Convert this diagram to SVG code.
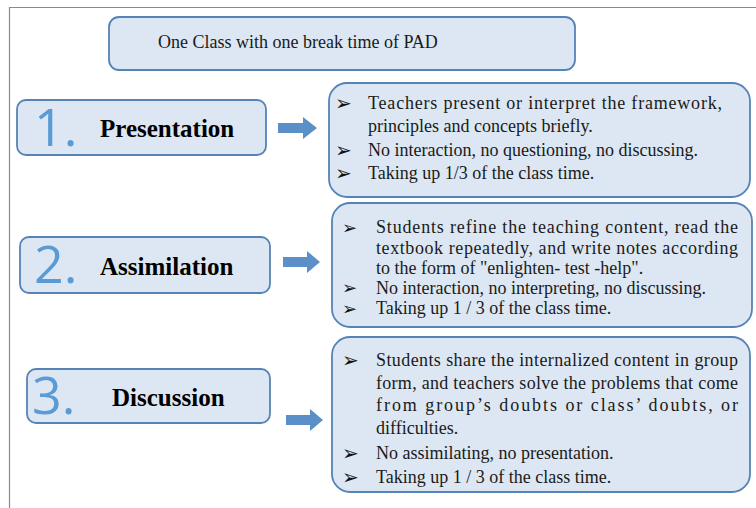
<svg xmlns="http://www.w3.org/2000/svg" width="756" height="508" viewBox="0 0 756 508">
<style>
.box{fill:#dce7f3;stroke:#5683b5;stroke-width:1.8}
.t{font-family:"Liberation Serif","Times New Roman",serif;font-size:18px;fill:#1a1a1a}
.h{font-family:"Liberation Serif","Times New Roman",serif;font-size:25px;font-weight:bold;fill:#000}
.n{font-family:"Open Sans",Roboto,sans-serif;font-weight:400;font-size:52px;fill:#5b9bd5}
.b{font-family:"DejaVu Sans",sans-serif;font-size:20px;fill:#111}
.b2{font-family:"DejaVu Sans",sans-serif;font-size:18px;fill:#111}
.arr{fill:#5b8fc7}
</style>
<rect width="756" height="508" fill="#fff"/>
<path d="M9.5 508 V7.5 H756" fill="none" stroke="#8a8a8a" stroke-width="1.2"/>
<g id="title">
<rect class="box" x="109" y="17" width="466" height="53" rx="10"/>
<text class="t" x="158" y="48" font-size="18.6">One Class with one break time of PAD</text>
</g>
<g id="n1">
<rect class="box" x="17" y="100" width="249" height="55" rx="9"/>
<text class="n" x="34" y="146">1.</text>
<text class="h" x="100" y="137">Presentation</text>
</g>
<g id="n2">
<rect class="box" x="20" y="237" width="250" height="56" rx="9"/>
<text class="n" x="34" y="283">2.</text>
<text class="h" x="100" y="275">Assimilation</text>
</g>
<g id="n3">
<rect class="box" x="27" y="369" width="243" height="54" rx="9"/>
<text class="n" x="32" y="414">3.</text>
<text class="h" x="112" y="406">Discussion</text>
</g>
<g id="d1">
<rect class="box" x="329" y="83" width="421" height="114" rx="18"/>
<text class="b" x="335" y="110">➢</text>
<text class="t" x="368" y="109" textLength="354" lengthAdjust="spacing">Teachers present or interpret the framework,</text>
<text class="t" x="368" y="132">principles and concepts briefly.</text>
<text class="b" x="335" y="157">➢</text>
<text class="t" x="368" y="156">No interaction, no questioning, no discussing.</text>
<text class="b" x="335" y="180">➢</text>
<text class="t" x="368" y="179">Taking up 1/3 of the class time.</text>
</g>
<g id="d2">
<rect class="box" x="332" y="203" width="420" height="124" rx="18"/>
<text class="b2" x="342" y="234">➢</text>
<text class="t" x="376" y="233" textLength="362" lengthAdjust="spacing">Students refine the teaching content, read the</text>
<text class="t" x="376" y="254" textLength="362" lengthAdjust="spacing">textbook repeatedly, and write notes according</text>
<text class="t" x="376" y="274">to the form of "enlighten- test -help".</text>
<text class="b2" x="342" y="294">➢</text>
<text class="t" x="376" y="294">No interaction, no interpreting, no discussing.</text>
<text class="b2" x="342" y="315">➢</text>
<text class="t" x="376" y="314">Taking up 1 / 3 of the class time.</text>
</g>
<g id="d3">
<rect class="box" x="332" y="337" width="418" height="155" rx="18"/>
<text class="b" x="342" y="367">➢</text>
<text class="t" x="376" y="366" textLength="362" lengthAdjust="spacing">Students share the internalized content in group</text>
<text class="t" x="376" y="389" textLength="362" lengthAdjust="spacing">form, and teachers solve the problems that come</text>
<text class="t" x="376" y="411" textLength="362" lengthAdjust="spacing">from group’s doubts or class’ doubts, or</text>
<text class="t" x="376" y="434">difficulties.</text>
<text class="b" x="342" y="460">➢</text>
<text class="t" x="376" y="459">No assimilating, no presentation.</text>
<text class="b" x="342" y="484">➢</text>
<text class="t" x="376" y="483">Taking up 1 / 3 of the class time.</text>
</g>
<g id="connectors">
<path class="arr" d="M278 123 H303 V117 L317 128 L303 139 V133 H278 Z"/>
<path class="arr" d="M283 257 H307 V251 L320 262 L307 273 V267 H283 Z"/>
<path class="arr" d="M286 415 H310 V409 L323 420 L310 431 V425 H286 Z"/>
</g>
</svg>
